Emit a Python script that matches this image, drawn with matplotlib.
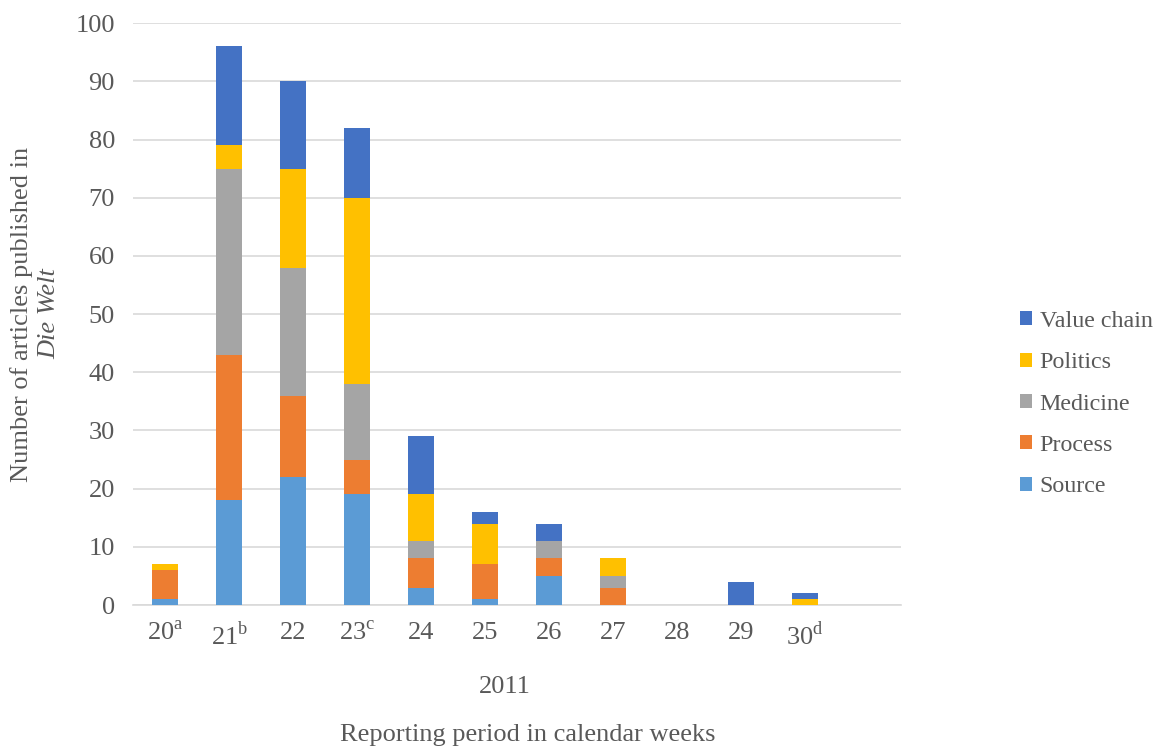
import numpy as np
import matplotlib.pyplot as plt

plt.rcParams['font.family'] = ['Liberation Serif', 'DejaVu Serif']
plt.rcParams['mathtext.fontset'] = 'custom'
plt.rcParams['mathtext.rm'] = 'Liberation Serif'

weeks = ['20', '21', '22', '23', '24', '25', '26', '27', '28', '29', '30']
week_notes = ['a', 'b', '', 'c', '', '', '', '', '', '', 'd']

source = [1, 18, 22, 19, 3, 1, 5, 0, 0, 0, 0]
process = [5, 25, 14, 6, 5, 6, 3, 3, 0, 0, 0]
medicine = [0, 32, 22, 13, 3, 0, 3, 2, 0, 0, 0]
politics = [1, 4, 17, 32, 8, 7, 0, 3, 0, 0, 1]
value_chain = [0, 17, 15, 12, 10, 2, 3, 0, 0, 4, 1]

series = [('Source', source, '#5B9BD5'),
          ('Process', process, '#ED7D31'),
          ('Medicine', medicine, '#A5A5A5'),
          ('Politics', politics, '#FFC000'),
          ('Value chain', value_chain, '#4472C4')]

text_col = '#595959'
fs = 19

fig = plt.figure(figsize=(11.57, 7.46), dpi=100)
ax = fig.add_axes([0.115, 0.189, 0.664, 0.780])

x = np.arange(len(weeks))
bottom = np.zeros(len(weeks))
for name, vals, col in series:
    vals = np.array(vals)
    ax.bar(x, vals, 0.41, bottom=bottom, color=col, label=name, zorder=3)
    bottom += vals

ax.set_xlim(-0.5, 11.5)
ax.set_ylim(0, 100)
ax.set_yticks(range(0, 101, 10))
ax.yaxis.grid(True, color='#D9D9D9', linewidth=1.2, zorder=0)
for s in ['top', 'right', 'left']:
    ax.spines[s].set_visible(False)
ax.spines['bottom'].set_color('#D9D9D9')
ax.spines['bottom'].set_linewidth(1.2)
ax.tick_params(axis='both', length=0, labelsize=fs, colors=text_col)
ax.tick_params(axis='y', pad=13)
ax.tick_params(axis='x', pad=12)

labels = [w + (r'$^{\mathrm{%s}}$' % n if n else '') for w, n in zip(weeks, week_notes)]
ax.set_xticks(x)
ax.set_xticklabels(labels)

fig.text(505 / 1157, 1 - 687 / 746, '2011', ha='center', va='center',
         fontsize=fs, color=text_col)
fig.text(528 / 1157, 1 - 735 / 746, 'Reporting period in calendar weeks',
         ha='center', va='center', fontsize=fs, color=text_col)
fig.text(22 / 1157, 1 - 314 / 746, 'Number of articles published in',
         rotation=90, ha='center', va='center', fontsize=fs, color=text_col)
fig.text(49 / 1157, 1 - 314 / 746, 'Die Welt', rotation=90, style='italic',
         ha='center', va='center', fontsize=fs, color=text_col)

handles, lbls = ax.get_legend_handles_labels()
fig.legend(handles[::-1], lbls[::-1], loc='center left',
           bbox_to_anchor=(1020 / 1157, 1 - 404 / 746), frameon=False,
           borderaxespad=0, borderpad=0,
           fontsize=17.3, labelcolor=text_col, handlelength=0.52,
           handleheight=0.52, handletextpad=0.3, labelspacing=0.85)

fig.savefig('out.png', dpi=100)
